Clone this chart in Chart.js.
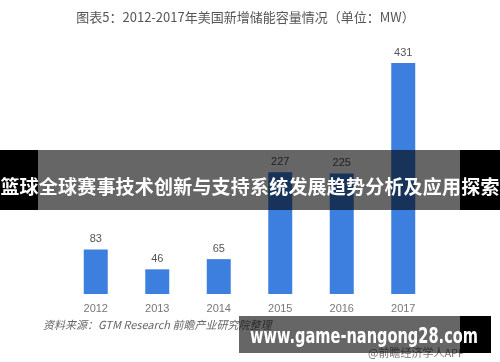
<!DOCTYPE html>
<html>
<head>
<meta charset="utf-8">
<script src="https://cdn.jsdelivr.net/npm/chart.js@4/dist/chart.umd.min.js"></script>
<style>
  html, body { margin: 0; padding: 0; background: #fff; }
  #wrap { position: relative; width: 500px; height: 362px; overflow: hidden; font-family: "Noto Sans CJK SC", "Noto Sans", sans-serif; }
  #myChart { position: absolute; left: 0; top: 0; }
  .title { position: absolute; left: 0; width: 491px; top: 7px; text-align: center; font-size: 13px; color: #555; }
  .band { position: absolute; left: 0; top: 150px; width: 500px; height: 60px; }
  .band .l { position: absolute; left: 0; top: 0; width: 38px; height: 60px; background: #000; }
  .band .m { position: absolute; left: 38px; top: 0; width: 422px; height: 60px; background: rgba(0,0,0,0.6); }
  .band .r { position: absolute; left: 460px; top: 0; width: 40px; height: 60px; background: #000; }
  .band .t { position: absolute; left: 0; width: 500px; top: 22px; text-align: center; font-size: 19px; font-weight: bold; color: #fff; line-height: 28px; letter-spacing: 0.2px; white-space: nowrap; }
  .src { position: absolute; left: 43px; top: 316px; font-size: 11px; font-style: italic; color: #666; white-space: nowrap; }
  .app { position: absolute; left: 368px; top: 344px; font-size: 11px; color: #777; white-space: nowrap; }
  .foot { position: absolute; left: 239px; top: 316px; width: 252px; height: 37px; }
  .foot .m { position: absolute; left: 0; top: 0; width: 221px; height: 37px; background: rgba(0,0,0,0.6); }
  .foot .r { position: absolute; left: 221px; top: 0; width: 31px; height: 37px; background: #000; }
  .foot .t { position: absolute; left: 11px; top: 7px; font-family: "DejaVu Sans", sans-serif; font-size: 21px; font-weight: bold; color: #fff; white-space: nowrap; line-height: 26px; transform-origin: 0 0; }
</style>
</head>
<body>
<div id="wrap">
  <canvas id="myChart" width="500" height="362"></canvas>
  <div class="title">图表5：2012-2017年美国新增储能容量情况（单位：MW）</div>
  <div class="src">资料来源：GTM Research 前瞻产业研究院整理</div>
  <div class="app">@前瞻经济学人APP</div>
  <div class="band"><div class="l"></div><div class="m"></div><div class="r"></div>
    <div class="t">篮球全球赛事技术创新与支持系统发展趋势分析及应用探索</div></div>
  <div class="foot"><div class="m"></div><div class="r"></div>
    <div class="t" id="footText">www.game-nangong28.com</div></div>
</div>
<script>
const years = ['2012', '2013', '2014', '2015', '2016', '2017']
const capacityMW = [83, 46, 65, 227, 225, 431]

// squeeze the site text so it spans the same width as in the picture
const ft = document.getElementById('footText')
ft.style.transform = 'scaleX(' + (228 / ft.getBoundingClientRect().width) + ')'

// draw the value above each bar
const valueLabels = {
  id: 'valueLabels',
  afterDatasetsDraw(chart) {
    const ctx = chart.ctx
    const meta = chart.getDatasetMeta(0)
    ctx.save()
    ctx.font = '11px "Liberation Sans", Arial, sans-serif'
    ctx.fillStyle = '#555'
    ctx.textAlign = 'center'
    ctx.textBaseline = 'bottom'
    meta.data.forEach((bar, i) => {
      ctx.fillText(chart.data.datasets[0].data[i], bar.x, bar.y - 5)
    })
    ctx.restore()
  }
}

let ctx = document.getElementById('myChart').getContext('2d');
let chart = new Chart(ctx, {
  type: 'bar',
  data: {
    labels: years,
    datasets: [{
      data: capacityMW,
      backgroundColor: '#3c7fde',
      barPercentage: 0.78,
      categoryPercentage: 0.5,
    }]
  },
  options: {
    responsive: false,
    animation: false,
    layout: { padding: { left: 65, right: 66, top: 26, bottom: 48 } },
    plugins: {
      legend: { display: false },
      tooltip: { enabled: false }
    },
    scales: {
      x: {
        grid: { display: false },
        border: { display: false },
        ticks: {
          color: '#777',
          padding: 0,
          font: { size: 11, family: '"Liberation Sans", Arial, sans-serif' }
        },
        afterFit: scale => { scale.height = 20 }
      },
      y: {
        display: false,
        min: 0,
        max: 500
      }
    }
  },
  plugins: [valueLabels]
});
</script>
</body>
</html>
